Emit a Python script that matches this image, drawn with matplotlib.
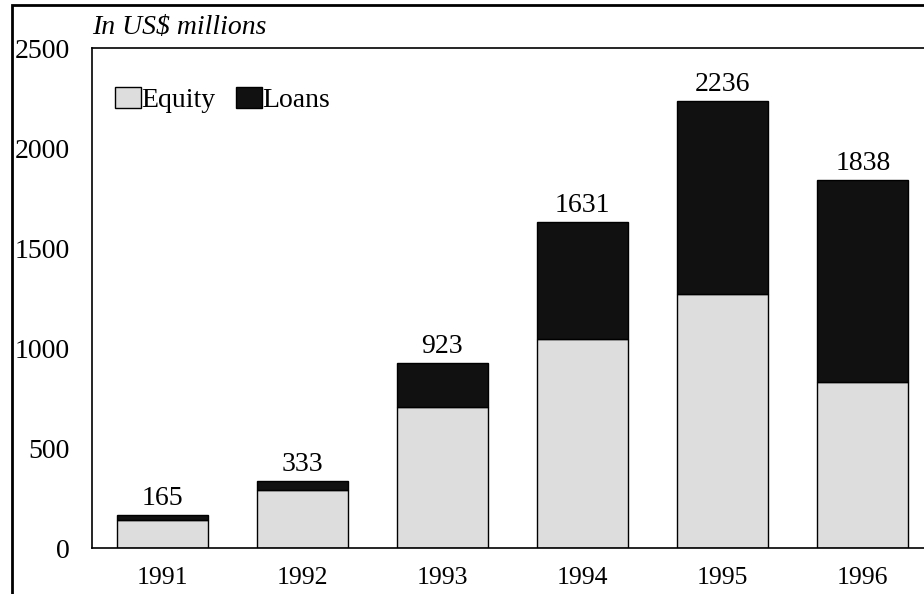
import numpy as np
import matplotlib.pyplot as plt
from matplotlib.patches import Rectangle

plt.rcParams['font.family'] = ['Liberation Serif', 'DejaVu Serif']

# Дані
years = ['1991', '1992', '1993', '1994', '1995', '1996']
equity = [140, 290, 703, 1045, 1270, 828]
totals = [165, 333, 923, 1631, 2236, 1838]
loans = [t - e for t, e in zip(totals, equity)]

fig = plt.figure(figsize=(9.24, 5.94), dpi=100)
ax = fig.add_axes([92 / 924, 46 / 594, 841 / 924, 500 / 594])

x = np.arange(len(years))
ax.bar(x, equity, width=0.65, color='#dddddd', edgecolor='black', linewidth=1, label='Equity')
ax.bar(x, loans, width=0.65, bottom=equity, color='#111111', edgecolor='black', linewidth=1, label='Loans')

# Підписи над стовпцями
for xi, t in zip(x, totals):
    ax.annotate(str(t), (xi, t), xytext=(0, 3), textcoords='offset points',
                ha='center', va='bottom', fontsize=20)

ax.set_xlim(-0.5, 5.5)
ax.set_ylim(0, 2500)
ax.set_xticks(x)
ax.set_xticklabels(years, fontsize=18.5)
ax.set_yticks(np.arange(0, 2501, 500))
ax.tick_params(axis='y', length=0, pad=16, labelsize=20)
ax.tick_params(axis='x', length=0, pad=14)
for s in ax.spines.values():
    s.set_linewidth(1.2)

ax.legend(loc='upper left', bbox_to_anchor=(0.014, 0.945), frameon=False, fontsize=20,
          handlelength=0.93, handleheight=0.8, handletextpad=0.03, columnspacing=0.72, ncol=2,
          borderaxespad=0)

fig.text(92 / 924, 1 - 34 / 594, 'In US$ millions', fontsize=20, style='italic', ha='left', va='baseline')

# Рамка навколо рисунка
fig.patches.append(Rectangle((12 / 924, -0.1), 1.2, 1 - 5 / 594 + 0.1, transform=fig.transFigure,
                             fill=False, edgecolor='black', linewidth=2))

fig.savefig('out.png', dpi=100)
